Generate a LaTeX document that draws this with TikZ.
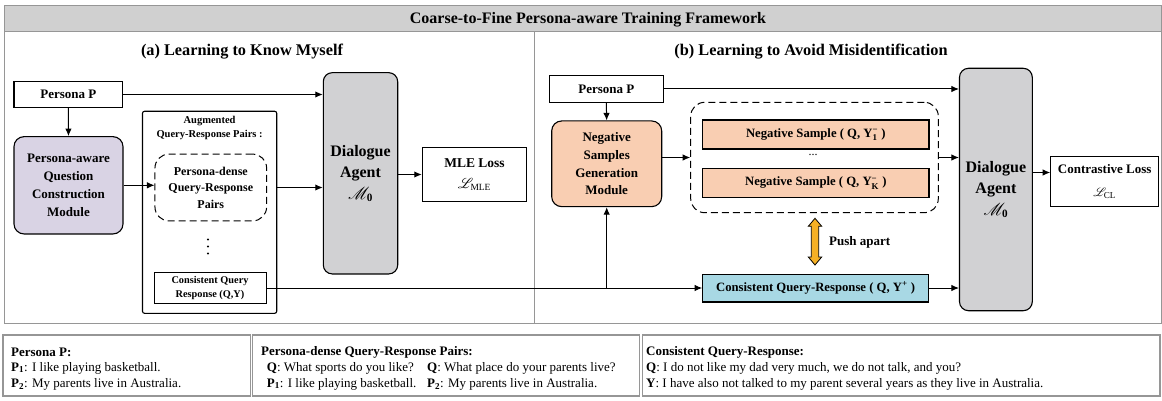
\documentclass[tikz,border=0pt]{standalone}
\usepackage{fontspec}
\setmainfont{Liberation Serif}
\usepackage{amsmath}
\usepackage{mathrsfs}
\usetikzlibrary{arrows.meta,calc}

\definecolor{bandgray}{RGB}{208,208,208}
\definecolor{framegray}{RGB}{150,150,150}
\definecolor{agentgray}{RGB}{209,209,211}
\definecolor{lavender}{RGB}{217,211,228}
\definecolor{peach}{RGB}{249,206,178}
\definecolor{skyblue}{RGB}{168,216,228}
\definecolor{pushorange}{RGB}{245,176,37}

\newcommand{\ysubsup}[2]{Y$_{\text{#1}}^{\text{#2}}$}

\tikzset{
  box/.style={draw, line width=1.1pt, align=center, inner sep=0pt,
    font=\bfseries\fontsize{13}{17.7}\selectfont},
  roundbox/.style={box, rounded corners=10pt},
  agent/.style={box, fill=agentgray, rounded corners=9pt,
    font=\bfseries\fontsize{16}{21.5}\selectfont},
  dashbox/.style={draw, line width=1pt, dash pattern=on 7pt off 4pt,
    rounded corners=14pt, align=center, inner sep=0pt,
    font=\bfseries\fontsize{12}{16.5}\selectfont},
  samplebox/.style={box, font=\bfseries\fontsize{12.7}{14}\selectfont},
  link/.style={-{Latex[length=7.5pt,width=6.5pt]}, line width=1pt},
  note/.style={anchor=west, inner sep=0pt, font=\fontsize{13}{15}\selectfont},
  notehead/.style={note, font=\bfseries\fontsize{13}{15}\selectfont},
  notebox/.style={draw=framegray, line width=1.3pt}
}

\begin{document}
\begin{tikzpicture}[x=1pt,y=-1pt]
\useasboundingbox (0,0) rectangle (1162,401);
\filldraw[fill=white, draw=framegray, line width=1pt] (4,6) rectangle (1161,323);
\filldraw[fill=bandgray, draw=framegray, line width=1pt] (4,6) rectangle (1161,32);
\draw[framegray, line width=1pt] (534,32) -- (534,323);
\node (title) at (588,20) {\bfseries\fontsize{16}{18}\selectfont Coarse-to-Fine Persona-aware Training Framework};
\node (heada) at (242,52) {\bfseries\fontsize{16.3}{18}\selectfont (a) Learning to Know Myself};
\node (headb) at (811,52) {\bfseries\fontsize{16.3}{18}\selectfont (b) Learning to Avoid Misidentification};

\node[box, minimum width=108.7pt, minimum height=25.6pt] (persa) at (68.3,94.5) {Persona P};
\node[roundbox, fill=lavender, minimum width=109pt, minimum height=97.3pt] (qcm) at (68.5,185.3) {Persona-aware\\Question\\Construction\\Module};
\node[box, rounded corners=2pt, minimum width=134.2pt, minimum height=202pt] (aug) at (209.6,212.3) {};
\node[inner sep=0pt, align=center, font=\bfseries\fontsize{10.5}{14.3}\selectfont] (aughead) at (209.6,128) {Augmented\\Query-Response Pairs :};
\node[dashbox, minimum width=111.7pt, minimum height=66.8pt] (dense) at (210.8,187.5) {Persona-dense\\Query-Response\\Pairs};
\fill (208,239.5) circle (1.2pt) (208,246.5) circle (1.2pt) (208,253.5) circle (1.2pt);
\node[box, line width=1pt, minimum width=112pt, minimum height=31.6pt, font=\bfseries\fontsize{10.3}{14}\selectfont] (cqa) at (210,288) {Consistent Query\\Response (Q,Y)};
\node[agent, minimum width=74.4pt, minimum height=201.3pt] (agenta) at (360.5,173.3) {Dialogue\\Agent\\$\mathscr{M}_{\mathbf{0}}$};
\node[box, minimum width=104.4pt, minimum height=54.4pt, font=\bfseries\fontsize{13.5}{21}\selectfont] (mle) at (474.5,174.5) {MLE Loss\\$\mathscr{L}_{\mathrm{MLE}}$};

\node[box, minimum width=114pt, minimum height=26.6pt] (persb) at (606.3,89) {Persona P};
\node[roundbox, fill=peach, minimum width=110pt, minimum height=85.7pt] (nsgm) at (606.7,163.8) {Negative\\Samples\\Generation\\Module};
\node[dashbox, minimum width=247.6pt, minimum height=110.4pt] (negbox) at (814.5,157.5) {};
\node[samplebox, fill=peach, minimum width=226.3pt, minimum height=29pt] (nega) at (815.8,134.5) {Negative Sample ( Q, \ysubsup{1}{−} )};
\node[inner sep=0pt, font=\fontsize{12}{14}\selectfont] (negdots) at (813,155) {...};
\node[samplebox, fill=peach, minimum width=226.3pt, minimum height=28.6pt] (negk) at (815.8,183) {Negative Sample ( Q, \ysubsup{K}{−} )};
\node[samplebox, fill=skyblue, minimum width=225.8pt, minimum height=27.9pt] (cqb) at (815.6,288) {Consistent Query-Response ( Q, Y\textsuperscript{+} )};
\node[agent, minimum width=72.8pt, minimum height=242.4pt] (agentb) at (995.9,189.5) {Dialogue\\Agent\\$\mathscr{M}_{\mathbf{0}}$};
\node[box, minimum width=108pt, minimum height=50pt, font=\bfseries\fontsize{13}{23}\selectfont] (cl) at (1104.7,181.7) {Contrastive Loss\\$\mathscr{L}_{\mathrm{CL}}$};

\filldraw[fill=pushorange, line width=0.8pt] (815,218.3) -- (821.7,226.3) -- (818.7,226.3) -- (818.7,257) -- (821.7,257) -- (815,265) -- (808.3,257) -- (811.3,257) -- (811.3,226.3) -- (808.3,226.3) -- cycle;
\node[anchor=west, inner sep=0pt, font=\bfseries\fontsize{13}{14}\selectfont] (push) at (829,242.3) {Push apart};

\draw[link] (persa.east) -- (persa.east -| agenta.west);
\draw[link] (persa.south) -- (qcm.north);
\draw[link] (qcm.east) -- (qcm.east -| dense.west);
\draw[link] (dense.east -| aug.east) -- (dense.east -| agenta.west);
\draw[link] (mle.west -| agenta.east) -- (mle.west);
\draw[link] (cqa.east) -- (cqb.west);
\draw[link] (cqa.east -| nsgm.south) -- (nsgm.south);
\draw[link] (persb.south) -- (nsgm.north);
\draw[link] (persb.east) -- (persb.east -| agentb.west);
\draw[link] (negbox.west -| nsgm.east) -- (negbox.west);
\draw[link] (negbox.east) -- (negbox.east -| agentb.west);
\draw[link] (cqb.east) -- (cqb.east -| agentb.west);
\coordinate (clin) at ($(cl.north west)!0.32!(cl.south west)$);
\draw[link] (clin -| agentb.east) -- (clin);

\draw[notebox] (3,335) rectangle (250.5,396);
\draw[notebox] (252.7,335) rectangle (639.3,396);
\draw[notebox] (642.2,335) rectangle (1160,396);
\node[notehead] (pershead) at (11,352) {Persona P:};
\node[note] (persone) at (11,368) {\textbf{P\textsubscript{1}}: I like playing basketball.};
\node[note] (perstwo) at (11,384) {\textbf{P\textsubscript{2}}: My parents live in Australia.};
\node[notehead] (densehead) at (261,352) {Persona-dense Query-Response Pairs:};
\node[note] (denseqa) at (266.7,368) {\textbf{Q}: What sports do you like?};
\node[note] (densepa) at (266.7,384) {\textbf{P\textsubscript{1}}: I like playing basketball.};
\node[note] (denseqb) at (427,368) {\textbf{Q}: What place do your parents live?};
\node[note] (densepb) at (427,384) {\textbf{P\textsubscript{2}}: My parents live in Australia.};
\node[notehead] (conshead) at (646,352) {Consistent Query-Response:};
\node[note] (consq) at (646,368) {\textbf{Q}: I do not like my dad very much, we do not talk, and you?};
\node[note] (consy) at (646,384) {\textbf{Y}: I have also not talked to my parent several years as they live in Australia.};
\end{tikzpicture}
\end{document}
